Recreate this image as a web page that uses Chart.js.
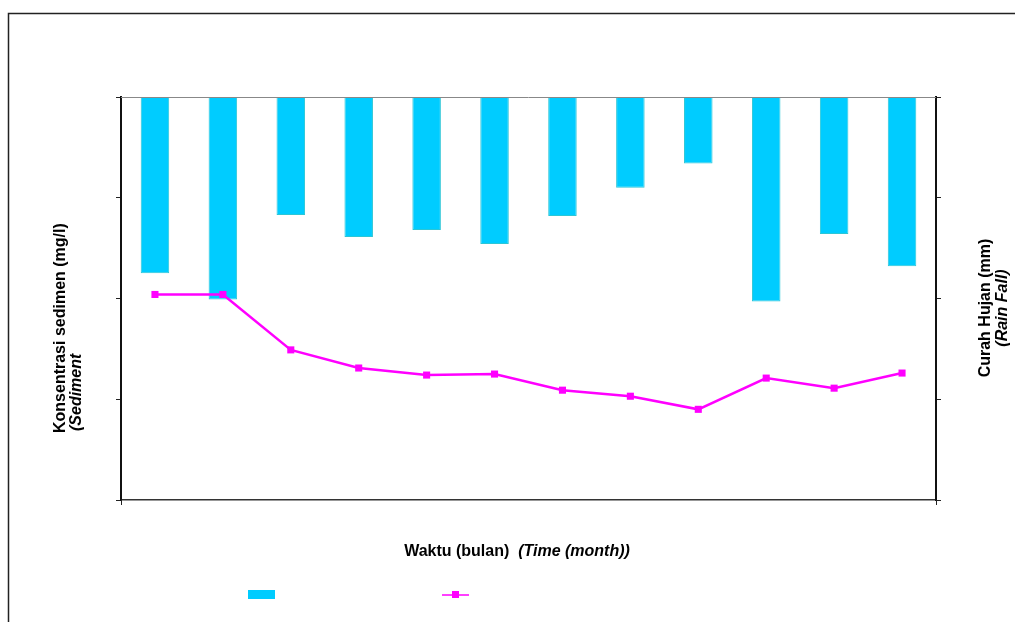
<!DOCTYPE html>
<html>
<head>
<meta charset="utf-8">
<script src="https://cdn.jsdelivr.net/npm/chart.js@4"></script>
<style>
  html, body { margin: 0; padding: 0; background: #fff; }
  #wrap { width: 1015px; height: 622px; }
</style>
</head>
<body>
<div id="wrap"><canvas id="grafik" width="1015" height="622"></canvas></div>
<script>
// data
const bulan = ['1', '2', '3', '4', '5', '6', '7', '8', '9', '10', '11', '12'];
const curahHujan = [175, 201, 117, 139, 132, 146, 118, 90, 66, 203, 136, 168];
const sedimen = [204, 204, 149, 131, 124, 125, 109, 103, 90, 121, 111, 126];
const skalaMax = 400;
const skalaStep = 100;

// judul sumbu dan bingkai, digambar manual
const teksPlugin = {
  id: 'teksPlugin',
  afterDraw(chart) {
    const ctx = chart.ctx;
    const a = chart.chartArea;
    ctx.save();

    // bingkai luar
    ctx.strokeStyle = '#222';
    ctx.lineWidth = 1.5;
    ctx.strokeRect(8.5, 13.5, 1100, 700);

    // garis atas area plot
    ctx.strokeStyle = '#888';
    ctx.lineWidth = 1;
    ctx.beginPath();
    ctx.moveTo(a.left, a.top + 0.5);
    ctx.lineTo(a.right, a.top + 0.5);
    ctx.stroke();

    // tick kecil di bawah sumbu x
    ctx.strokeStyle = '#222';
    ctx.beginPath();
    ctx.moveTo(a.left + 0.5, a.bottom);
    ctx.lineTo(a.left + 0.5, a.bottom + 5);
    ctx.moveTo(a.right + 0.5, a.bottom);
    ctx.lineTo(a.right + 0.5, a.bottom + 5);
    ctx.stroke();

    ctx.fillStyle = '#000';
    ctx.textBaseline = 'middle';

    // judul x
    const f1 = 'bold 16px "Liberation Sans", Arial, sans-serif';
    const f2 = 'italic bold 16px "Liberation Sans", Arial, sans-serif';
    const t1 = 'Waktu (bulan)  ';
    const t2 = '(Time (month))';
    ctx.font = f1;
    const w1 = ctx.measureText(t1).width;
    ctx.font = f2;
    const w2 = ctx.measureText(t2).width;
    let x0 = 517 - (w1 + w2) / 2;
    ctx.textAlign = 'left';
    ctx.font = f1;
    ctx.fillText(t1, x0, 552);
    ctx.font = f2;
    ctx.fillText(t2, x0 + w1, 552);

    // judul kiri
    ctx.save();
    ctx.translate(61, 433);
    ctx.rotate(-Math.PI / 2);
    ctx.textAlign = 'left';
    ctx.font = f1;
    ctx.fillText('Konsentrasi sedimen (mg/l)', 0, 0);
    ctx.font = f2;
    ctx.fillText('(Sediment', 2, 16);
    ctx.restore();

    // judul kanan
    ctx.save();
    ctx.translate(986, 308);
    ctx.rotate(-Math.PI / 2);
    ctx.textAlign = 'center';
    ctx.font = f1;
    ctx.fillText('Curah Hujan (mm)', 0, 0);
    ctx.font = f2;
    ctx.fillText('(Rain Fall)', 0, 17);
    ctx.restore();

    // legenda tanpa teks
    ctx.fillStyle = '#00CCFF';
    ctx.fillRect(248, 590, 27, 9);
    ctx.strokeStyle = '#FF00FF';
    ctx.lineWidth = 1.5;
    ctx.beginPath();
    ctx.moveTo(442, 595);
    ctx.lineTo(469, 595);
    ctx.stroke();
    ctx.fillStyle = '#FF00FF';
    ctx.fillRect(452, 591, 7, 7);

    ctx.restore();
  }
};

const ctx = document.getElementById('grafik').getContext('2d');
new Chart(ctx, {
  type: 'bar',
  data: {
    labels: bulan,
    datasets: [
      {
        type: 'line',
        label: 'Sedimen',
        data: sedimen,
        yAxisID: 'y',
        borderColor: '#FF00FF',
        borderWidth: 2.5,
        backgroundColor: '#FF00FF',
        pointStyle: 'rect',
        pointRadius: 5,
        pointBorderWidth: 0,
        tension: 0,
        order: 0
      },
      {
        type: 'bar',
        label: 'Curah Hujan',
        data: curahHujan,
        yAxisID: 'y1',
        backgroundColor: '#00CCFF',
        borderColor: '#2CC6D6',
        borderWidth: 1,
        barPercentage: 0.42,
        categoryPercentage: 1,
        order: 1
      }
    ]
  },
  options: {
    responsive: false,
    animation: false,
    layout: { padding: { left: 0, right: 0, top: 97, bottom: 122 } },
    plugins: {
      legend: { display: false },
      tooltip: { enabled: false }
    },
    scales: {
      x: {
        offset: true,
        ticks: { display: false },
        grid: { display: false },
        border: { display: true, color: '#333', width: 1.5 },
        afterFit(s) { s.height = 0; }
      },
      y: {
        position: 'left',
        min: 0,
        max: skalaMax,
        ticks: { display: false, stepSize: skalaStep },
        grid: { drawOnChartArea: false, drawTicks: true, tickLength: 5, color: '#222' },
        border: { display: true, color: '#111', width: 2 },
        afterFit(s) { s.width = 121; }
      },
      y1: {
        position: 'right',
        reverse: true,
        min: 0,
        max: skalaMax,
        ticks: { display: false, stepSize: skalaStep },
        grid: { drawOnChartArea: false, drawTicks: true, tickLength: 5, color: '#222' },
        border: { display: true, color: '#111', width: 2 },
        afterFit(s) { s.width = 79; }
      }
    }
  },
  plugins: [teksPlugin]
});
</script>
</body>
</html>
